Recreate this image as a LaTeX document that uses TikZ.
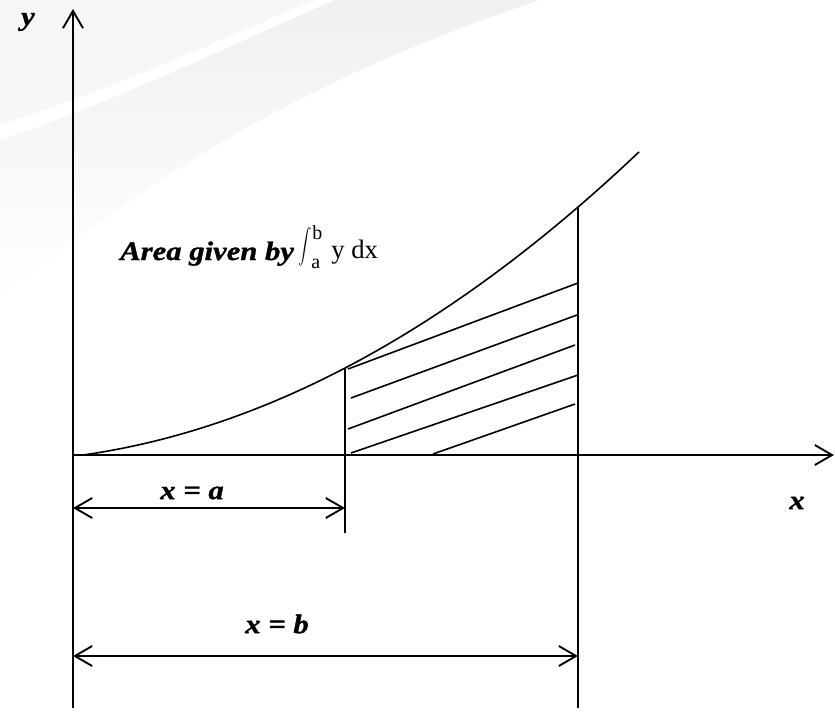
\documentclass[tikz,border=0pt]{standalone}
\usepackage{fontspec}
\usepackage{graphicx}
\setmainfont{Liberation Serif}
\newfontfamily\labfont[FakeStretch=1.15,FakeBold=1.2]{Liberation Serif}
\usetikzlibrary{arrows.meta,fadings}
\tikzset{
  axis/.style={line width=1.4pt, draw=black},
  thin line/.style={line width=1.2pt, draw=black},
  barb/.style={-{Straight Barb[length=13pt,width=15pt,line width=1.4pt]}},
  dimline/.style={line width=1.4pt, {Straight Barb[length=13pt,width=15pt,line width=1.4pt]}-{Straight Barb[length=13pt,width=15pt,line width=1.4pt]}},
  lab/.style={font=\labfont\fontsize{20}{24}\selectfont\bfseries\itshape, inner sep=0pt},
  rmlab/.style={font=\fontsize{20}{24}\selectfont, inner sep=0pt},
  limlab/.style={font=\fontsize{15}{18}\selectfont, inner sep=0pt}
}
\begin{document}
\begin{tikzpicture}[x=0.75pt,y=-0.75pt]
\useasboundingbox (0,0) rectangle (835,711);
% faint decorative background swoosh
\fill[black!3] (0,0) -- (0,125) .. controls (110,90) and (220,40) .. (315,0) -- cycle;
\fill[black!6, path fading=south] (0,140) .. controls (120,100) and (230,45) .. (335,0) -- (540,0) .. controls (390,50) and (200,130) .. (0,300) -- cycle;
% points
\coordinate (O) at (73,455);
\coordinate (Ytop) at (73,9);
\coordinate (Ybot) at (73,708);
\coordinate (Xend) at (834,455);
\coordinate (A0) at (345,368);
\coordinate (A1) at (345,533);
\coordinate (B0) at (578,207);
\coordinate (B1) at (578,708);
\coordinate (DA1) at (73,508);
\coordinate (DA2) at (345,508);
\coordinate (DB1) at (73,656);
\coordinate (DB2) at (578,656);
% axes
\draw[axis,barb] (Ybot) -- (Ytop);
\draw[axis,barb] (O) -- (Xend);
% curve
\draw[thin line] plot[domain=83:639, samples=120, smooth] (\x, {455 - 14.2*((\x-83)/100) - 7.25*((\x-83)/100)^2});
% verticals
\draw[axis] (A0) -- (A1);
\draw[axis] (B0) -- (B1);
% hatch lines
\coordinate (h1a) at (348,369); \coordinate (h1b) at (578,283);
\coordinate (h2a) at (351,398); \coordinate (h2b) at (577,315);
\coordinate (h3a) at (348,429); \coordinate (h3b) at (575,345);
\coordinate (h4a) at (351,453); \coordinate (h4b) at (578,375);
\coordinate (h5a) at (433,454); \coordinate (h5b) at (575,404);
\draw[thin line] (h1a) -- (h1b);
\draw[thin line] (h2a) -- (h2b);
\draw[thin line] (h3a) -- (h3b);
\draw[thin line] (h4a) -- (h4b);
\draw[thin line] (h5a) -- (h5b);
% dimension arrows
\draw[dimline] (DA1) -- (DA2);
\draw[dimline] (DB1) -- (DB2);
% labels
\node[lab] (ylab) at (28,22) {y};
\node[lab] (xlab) at (797,503) {x};
\node[lab] (xa) at (192,493) {x = a};
\node[lab] (xb) at (277,624) {x = b};
\node[lab, anchor=base west] (area) at (120,260) {Area given by};
\node[inner sep=0pt] (intg) at (305,247) {\scalebox{1.0}[1.3]{$\displaystyle\int$}};
\node[limlab, anchor=base west] (limb) at (312,239) {b};
\node[limlab, anchor=base west] (lima) at (311,268) {a};
\node[rmlab, anchor=base west] (ydx) at (331,258) {y dx};
\end{tikzpicture}
\end{document}
